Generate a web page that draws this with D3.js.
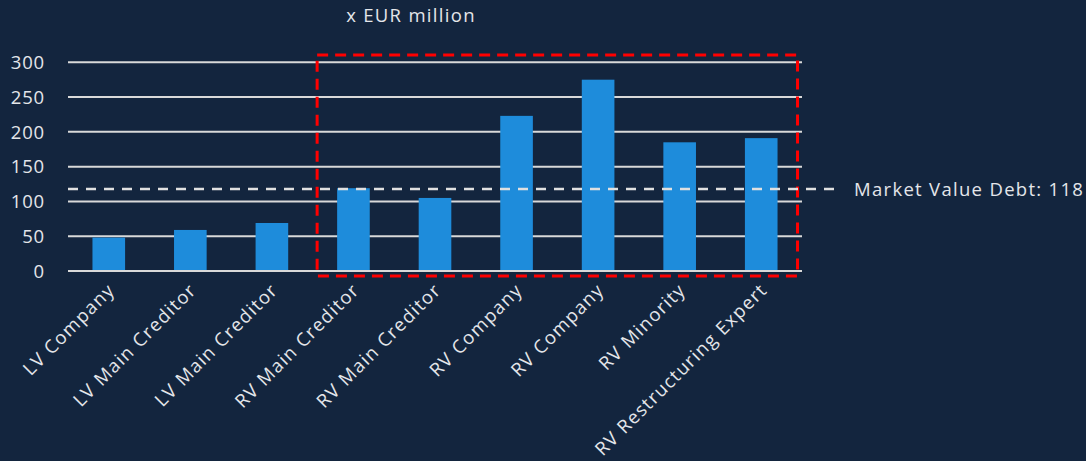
<!DOCTYPE html>
<html><head><meta charset="utf-8">
<script src="https://cdn.jsdelivr.net/npm/d3@7"></script>
<style>
html,body{margin:0;padding:0;background:#13253e;}
svg{display:block;font-family:"Open Sans",Lato,sans-serif;}
</style></head>
<body><svg id="c" width="1086" height="461"></svg>
<script>
const categories = ["LV Company","LV Main Creditor","LV Main Creditor","RV Main Creditor","RV Main Creditor","RV Company","RV Company","RV Minority","RV Restructuring Expert"];
const values = [48, 59, 69, 119, 105, 223, 275, 185, 191];
const yTicks = [0, 50, 100, 150, 200, 250, 300];
const marketValueDebt = 118;
const marketLabel = "Market Value Debt: 118";
const unitLabel = "x EUR million";
const highlightFrom = 3, highlightTo = 8;

const svg = d3.select("#c");
const textColor = "#e4e6ea";
const ls = 1.3;
const x = d3.scaleBand().domain(d3.range(categories.length)).range([68, 802]).paddingInner(0.6).paddingOuter(0.3);
const y = d3.scaleLinear().domain([0, 300]).range([271, 62.3]);

// gridlines
svg.append("g").selectAll("line").data(yTicks).join("line")
  .attr("x1", 68).attr("x2", 802)
  .attr("y1", d => y(d)).attr("y2", d => y(d))
  .attr("stroke", "#d9d9d9").attr("stroke-width", 2);

// y tick labels
svg.append("g").selectAll("text").data(yTicks).join("text")
  .attr("x", 45).attr("y", d => y(d)).attr("dy", "0.36em")
  .attr("text-anchor", "end").attr("fill", textColor).attr("font-size", 18.5)
  .attr("letter-spacing", 0.8)
  .text(d => d);

// bars
svg.append("g").selectAll("rect").data(values).join("rect")
  .attr("x", (d, i) => x(i)).attr("width", x.bandwidth())
  .attr("y", d => y(d)).attr("height", d => y(0) - y(d))
  .attr("fill", "#1e8cdb");

// axis line
svg.append("line").attr("x1", 68).attr("x2", 802).attr("y1", y(0)).attr("y2", y(0))
  .attr("stroke", "#d9d9d9").attr("stroke-width", 2);

// highlight rectangle
const hx0 = x(highlightFrom) - 20;
const hx1 = x(highlightTo) + x.bandwidth() + 20;
svg.append("rect")
  .attr("x", hx0).attr("y", 55).attr("width", hx1 - hx0).attr("height", 221)
  .attr("fill", "none").attr("stroke", "#ff0000").attr("stroke-width", 3)
  .attr("stroke-dasharray", "11,7");

// market value line
svg.append("line").attr("x1", 68).attr("x2", 838)
  .attr("y1", y(marketValueDebt)).attr("y2", y(marketValueDebt))
  .attr("stroke", "#e0e0e0").attr("stroke-width", 2.5).attr("stroke-dasharray", "10,8");
svg.append("text").attr("x", 854).attr("y", y(marketValueDebt)).attr("dy", "0.36em")
  .attr("fill", textColor).attr("font-size", 18.5).attr("letter-spacing", ls).text(marketLabel);

// title
svg.append("text").attr("x", 411).attr("y", 22).attr("text-anchor", "middle")
  .attr("fill", textColor).attr("font-size", 18.5).attr("letter-spacing", ls).text(unitLabel);

// category labels
svg.append("g").selectAll("text").data(categories).join("text")
  .attr("transform", (d, i) => `translate(${x(i) + x.bandwidth() / 2 - 2},${282}) rotate(-45)`)
  .attr("text-anchor", "end").attr("dy", "0.7em")
  .attr("fill", textColor).attr("font-size", 18.5).attr("letter-spacing", ls).text(d => d);
</script></body></html>
